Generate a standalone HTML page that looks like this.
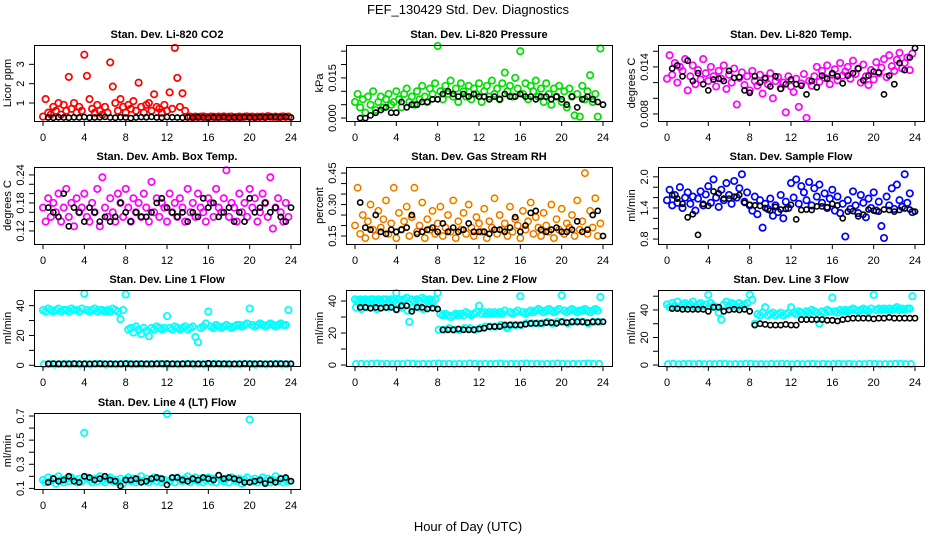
<!DOCTYPE html>
<html><head><meta charset="utf-8"><style>
html,body{margin:0;padding:0;background:#fff}
svg{display:block;font-family:"Liberation Sans",sans-serif}
</style></head><body>
<svg id="chart" width="936" height="540" viewBox="0 0 936 540" xmlns="http://www.w3.org/2000/svg">
<rect x="0" y="0" width="936" height="540" fill="#fff"/>
<text x="468" y="14" text-anchor="middle" font-size="13">FEF_130429  Std. Dev. Diagnostics</text>
<text x="468" y="531" text-anchor="middle" font-size="13">Hour of Day (UTC)</text>
</svg>
<script>
const xTicks=[0,4,8,12,16,20,24];
const co2Red=[0.3,1.2,0.5,0.4,0.8,0.6,1.0,0.4,0.9,0.6,2.35,0.7,1.0,0.5,0.8,0.6,3.5,2.4,1.2,0.7,0.5,0.9,0.6,0.4,0.8,0.5,3.1,1.85,1.0,0.6,1.2,0.8,0.5,0.9,0.7,1.1,0.6,2.05,0.8,0.5,0.9,1.0,0.6,1.45,0.8,0.7,0.5,0.9,0.6,1.55,0.7,3.85,2.3,0.8,1.5,0.6,0.28,0.3,0.26,0.3,0.27,0.29,0.31,0.28,0.26,0.3,0.29,0.27,0.3,0.28,0.31,0.27,0.29,0.3,0.26,0.28,0.3,0.27,0.29,0.31,0.28,0.3,0.26,0.29,0.28,0.3,0.27,0.32,0.29,0.28,0.3,0.27,0.29,0.31,0.28,0.3];
const co2Blk=[0.25,0.24,0.26,0.25,0.24,0.26,0.25,0.27,0.24,0.25,0.26,0.28,0.25,0.24,0.26,0.25,0.22,0.25,0.27,0.26,0.28,0.25,0.24,0.27,0.26,0.25,0.24,0.26,0.25,0.27,0.25,0.24,0.26,0.25,0.27,0.24,0.26,0.25,0.27,0.26,0.25,0.27,0.26,0.28,0.27,0.26,0.28,0.25];
const presGreen=[0.006,0.009,0.004,0.007,0.002,0.008,0.005,0.010,0.003,0.006,0.008,0.004,0.007,0.009,0.005,0.006,0.010,0.007,0.004,0.009,0.011,0.006,0.008,0.005,0.010,0.007,0.012,0.008,0.006,0.011,0.009,0.013,0.027,0.010,0.007,0.012,0.009,0.014,0.008,0.011,0.006,0.013,0.010,0.008,0.012,0.007,0.011,0.009,0.013,0.006,0.010,0.012,0.008,0.014,0.009,0.011,0.007,0.013,0.017,0.010,0.012,0.008,0.015,0.011,0.025,0.009,0.013,0.007,0.012,0.010,0.014,0.008,0.011,0.006,0.013,0.009,0.005,0.011,0.008,0.012,0.006,0.010,0.004,0.011,0.008,0.001,0.009,0.0005,0.012,0.007,0.010,0.016,0.006,0.009,0.0005,0.026];
const presBlk=[0,0,0.001,0.002,0.003,0.004,0.002,0.002,0.006,0.004,0.005,0.005,0.006,0.006,0.007,0.007,0.009,0.010,0.009,0.008,0.009,0.008,0.009,0.008,0.008,0.007,0.008,0.007,0.009,0.008,0.008,0.009,0.008,0.008,0.007,0.008,0.008,0.007,0.008,0.007,0.005,0.008,0.004,0.007,0.008,0.007,0.006,0.005];
const tempMag=[0.0125,0.0155,0.0130,0.0145,0.0120,0.0140,0.0135,0.0150,0.0110,0.0128,0.0142,0.0118,0.0136,0.0124,0.0150,0.0132,0.0122,0.0140,0.0128,0.0115,0.0135,0.0125,0.0142,0.0112,0.0130,0.0120,0.0138,0.0092,0.0126,0.0133,0.0117,0.0128,0.0110,0.0135,0.0122,0.0116,0.0130,0.0106,0.0124,0.0118,0.0132,0.0100,0.0122,0.0127,0.0113,0.0120,0.0082,0.0128,0.0115,0.0108,0.0125,0.0089,0.0119,0.0131,0.0075,0.0122,0.0116,0.0128,0.0140,0.0121,0.0135,0.0126,0.0142,0.0118,0.0130,0.0137,0.0123,0.0145,0.0129,0.0134,0.0140,0.0125,0.0148,0.0131,0.0138,0.0120,0.0143,0.0128,0.0117,0.0136,0.0124,0.0146,0.0132,0.0139,0.0150,0.0127,0.0155,0.0141,0.0135,0.0149,0.0158,0.0138,0.0145,0.0152,0.0136,0.0157];
const tempBlk=[0.0138,0.0142,0.0128,0.0148,0.0122,0.0132,0.0118,0.0110,0.0124,0.0125,0.0122,0.0135,0.0126,0.0127,0.0110,0.0107,0.0128,0.0120,0.0126,0.0115,0.0128,0.0112,0.0118,0.0124,0.0118,0.0116,0.0105,0.0122,0.0114,0.0129,0.0125,0.0132,0.0128,0.0119,0.0129,0.0132,0.0138,0.0123,0.0129,0.0134,0.0133,0.0105,0.0129,0.0118,0.0145,0.0136,0.0152,0.0164];
const ambMag=[0.17,0.14,0.19,0.15,0.18,0.16,0.20,0.14,0.17,0.21,0.15,0.18,0.13,0.19,0.16,0.17,0.20,0.15,0.14,0.18,0.16,0.21,0.13,0.235,0.17,0.15,0.19,0.16,0.14,0.20,0.18,0.15,0.21,0.17,0.14,0.19,0.16,0.18,0.15,0.20,0.17,0.14,0.225,0.16,0.19,0.15,0.18,0.17,0.14,0.20,0.16,0.18,0.15,0.19,0.17,0.14,0.21,0.16,0.18,0.15,0.20,0.17,0.16,0.14,0.19,0.18,0.15,0.21,0.17,0.16,0.19,0.25,0.15,0.18,0.17,0.14,0.20,0.16,0.18,0.15,0.21,0.17,0.19,0.14,0.16,0.20,0.18,0.15,0.235,0.125,0.17,0.19,0.16,0.14,0.18,0.15];
const ambBlk=[0.17,0.16,0.15,0.20,0.13,0.17,0.16,0.14,0.17,0.16,0.14,0.15,0.14,0.15,0.18,0.16,0.14,0.16,0.15,0.15,0.16,0.18,0.19,0.17,0.16,0.15,0.16,0.14,0.16,0.15,0.19,0.17,0.18,0.15,0.16,0.17,0.14,0.16,0.14,0.19,0.16,0.17,0.18,0.16,0.17,0.15,0.14,0.17];
const rhOrange=[0.20,0.38,0.16,0.25,0.14,0.22,0.30,0.18,0.15,0.27,0.19,0.23,0.32,0.16,0.21,0.38,0.14,0.26,0.18,0.22,0.29,0.15,0.24,0.38,0.17,0.20,0.31,0.14,0.23,0.18,0.27,0.16,0.21,0.29,0.15,0.19,0.25,0.17,0.32,0.14,0.22,0.18,0.26,0.16,0.30,0.19,0.15,0.24,0.21,0.17,0.28,0.14,0.22,0.19,0.33,0.16,0.25,0.18,0.21,0.15,0.29,0.17,0.23,0.20,0.14,0.27,0.18,0.22,0.31,0.16,0.24,0.19,0.15,0.26,0.20,0.17,0.30,0.14,0.23,0.18,0.28,0.16,0.21,0.19,0.25,0.15,0.32,0.18,0.22,0.45,0.16,0.27,0.19,0.33,0.15,0.21];
const rhBlk=[0.31,0.19,0.18,0.25,0.17,0.16,0.18,0.17,0.18,0.19,0.25,0.16,0.17,0.18,0.19,0.17,0.21,0.17,0.19,0.17,0.18,0.21,0.17,0.17,0.17,0.16,0.18,0.18,0.17,0.19,0.24,0.17,0.20,0.26,0.27,0.18,0.17,0.18,0.19,0.17,0.17,0.18,0.22,0.17,0.18,0.25,0.27,0.15];
const flowBlue=[1.55,1.75,1.45,1.65,1.50,1.80,1.40,1.60,1.70,1.48,1.62,1.35,1.58,1.72,1.45,1.66,1.82,1.50,1.95,1.60,1.42,1.75,1.55,1.88,1.65,1.48,1.92,1.60,1.78,2.05,1.52,1.70,1.45,1.35,1.62,1.28,1.55,1.02,1.48,1.38,1.58,1.25,1.45,1.32,1.65,1.20,1.52,1.40,1.88,1.60,1.95,1.48,1.82,1.70,1.55,1.90,1.45,1.78,1.62,1.85,1.50,1.68,1.40,1.58,1.75,1.35,1.62,1.30,1.48,0.85,1.55,1.38,1.72,1.45,1.30,1.65,1.50,1.22,1.58,1.40,1.70,1.35,1.52,1.05,0.82,1.62,1.45,1.78,1.38,1.85,1.55,1.42,2.05,1.50,1.68,1.32];
const flowBlk=[1.65,1.58,1.48,1.22,1.28,0.88,1.48,1.44,1.72,1.68,1.58,1.58,1.62,1.65,1.50,1.46,1.45,1.44,1.40,1.35,1.42,1.37,1.38,1.46,1.18,1.36,1.37,1.36,1.43,1.43,1.41,1.48,1.45,1.20,1.33,1.34,1.24,1.27,1.37,1.35,1.33,1.37,1.36,1.33,1.36,1.39,1.37,1.33];
const line1Cyan=[37,36,38,37,36,37,38,36,37,37,36,38,37,37,36,38,48,37,36,37,38,36,37,37,36,37,36,38,37,36,31,37,47.5,24,25,22,26,24,21,25,23,19.5,25,24,26,25,24,25,33,25,24,26,25,24,25,26,24,25,26,19,15.5,25,26,28,36,26,25,27,26,25,26,27,26,25,26,27,27,26,27,28,38,27,26,27,28,27,26,27,28,27,26,27,28,27,27,37];
const lineLowCyan=[0.6,0.8,0.5,0.7,0.9,0.6,0.8,0.5,0.7,0.6,0.9,0.8,0.5,0.7,0.6,0.8,0.9,0.6,0.7,0.5,0.8,0.6,0.9,0.7,0.5,0.8,0.6,0.7,0.9,0.5,0.8,0.6,0.7,0.9,0.6,0.8,0.5,0.7,0.6,0.9,0.8,0.5,0.7,0.6,0.8,0.9,0.6,0.7];
const line1Blk=[1.0,1.1,1.0,0.9,1.0,1.1,1.0,1.0,0.9,1.0,1.1,1.0,1.0,0.9,1.0,1.1,1.0,1.0,1.1,0.9,1.0,1.0,1.1,1.2,1.0,0.9,1.0,1.1,1.0,1.0,0.9,1.3,1.0,1.1,1.0,1.0,0.9,1.0,1.1,1.0,1.0,1.1,0.9,1.0,1.0,1.1,1.0,1.0];
const line2CyanA=[41,40,41,40,41,40,41,41,40,41,40,41,41,40,41,40,45,41,40,41,42,27,41,40,41,40,42,41,40,41,40,41,45,32,31,32,31,30,31,32,31,32,31,33,32,31,32,33,37,32,33,32,33,32,33,32,33,32,34,23,33,32,33,34,43,33,32,33,34,33,34,35,34,33,34,35,34,33,34,35,43.5,34,33,34,35,34,33,34,34,35,34,33,34,35,34,42.5];
const line2CyanB=[36,35,36,36,35,36,36,37,35,36,34,36,36,35,36,36,22,22,23,22,22,23,23,22,23,24,24,24,25,24,25,25,25,26,26,26,26,27,26,27,27,26,27,27,27,26,27,27];
const line2Blk=[36,36,35.5,36,35.5,36,36,34.5,37,37,33.5,36,36,35,35.5,35,22,22,22,22.5,22,22,22,22.5,23,24,24,24,25,25,25,25,25.5,26,26,26,26.5,26.5,26,27,26.5,27,27,27,26.5,27,27,27];
const line3Cyan=[44,42,45,43,46,42,44,45,43,44,46,42,44,45,43,44,51,45,43,42,38,33,44,46,43,45,44,42,45,43,44,45,51,47.5,30,37,36,38,42,36,37,38,36,37,38,36,37,38,42,38,37,39,38,37,39,38,40,39,38,30,39,38,40,39,49,39,38,40,39,40,39,40,41,40,39,40,41,40,39,41,51,40,41,40,41,40,41,40,41,42,40,41,40,41,41,50];
const line3Blk=[41,41,40.5,40.5,40.5,40.5,40.5,39,42,42,39,40,40.5,40,40.5,39,29,30,29.5,29,29,29,29.5,29,29,33,33,33,33,33,32.5,32.5,32,33,33.5,34,34,34,34,33.5,34,34,34.5,34,34,34,34,34];
const line4Cyan=[0.17,0.15,0.19,0.16,0.18,0.14,0.20,0.17,0.15,0.18,0.16,0.19,0.17,0.15,0.18,0.16,0.56,0.19,0.17,0.15,0.18,0.16,0.20,0.17,0.15,0.18,0.19,0.16,0.17,0.15,0.18,0.14,0.17,0.19,0.16,0.18,0.15,0.17,0.20,0.16,0.18,0.15,0.17,0.19,0.16,0.18,0.15,0.17,0.72,0.16,0.18,0.15,0.19,0.17,0.16,0.18,0.20,0.15,0.17,0.19,0.16,0.18,0.15,0.17,0.19,0.16,0.18,0.15,0.20,0.17,0.16,0.18,0.15,0.19,0.17,0.16,0.18,0.14,0.17,0.19,0.67,0.16,0.18,0.15,0.17,0.19,0.16,0.18,0.15,0.17,0.20,0.16,0.18,0.15,0.17,0.16];
const line4Blk=[0.15,0.18,0.16,0.17,0.20,0.16,0.15,0.20,0.19,0.17,0.18,0.20,0.17,0.16,0.12,0.17,0.17,0.18,0.15,0.16,0.18,0.19,0.18,0.13,0.19,0.19,0.17,0.16,0.18,0.17,0.19,0.18,0.17,0.21,0.18,0.19,0.18,0.17,0.15,0.15,0.16,0.17,0.14,0.17,0.15,0.18,0.19,0.16];

const NS="http://www.w3.org/2000/svg";
const svg=document.getElementById('chart');
const colL=[34,346,658], rowT=[45,167,290,413], rowB=[121,244,366,489], BW=266;
function mk(tag,attrs,parent){const e=document.createElementNS(NS,tag);for(const k in attrs)e.setAttribute(k,attrs[k]);parent.appendChild(e);return e;}

const panels=[
 {key:'co2',title:'Stan. Dev. Li-820 CO2',ylab:'Licor ppm',c:0,r:0,ylim:[0.07,4.0],ticks:[1,2,3],labels:['1','2','3'],series:[[co2Red,'#ff0000',1.7],[co2Blk,'#000',1.6]]},
 {key:'pressure',title:'Stan. Dev. Li-820 Pressure',ylab:'kPa',c:1,r:0,ylim:[-0.0011,0.0273],ticks:[0,0.005,0.01,0.015,0.02,0.025],labels:['0.000','','','0.015','',''],series:[[presGreen,'#00e000',1.7],[presBlk,'#000',1.6]]},
 {key:'temp',title:'Stan. Dev. Li-820 Temp.',ylab:'degrees C',c:2,r:0,ylim:[0.0071,0.0168],ticks:[0.008,0.010,0.012,0.014,0.016],labels:['0.008','','','0.014',''],series:[[tempMag,'#ff00ff',1.7],[tempBlk,'#000',1.6]]},
 {key:'amb-box-temp',title:'Stan. Dev. Amb. Box Temp.',ylab:'degrees C',c:0,r:1,ylim:[0.092,0.257],ticks:[0.12,0.14,0.16,0.18,0.20,0.22,0.24],labels:['0.12','','','0.18','','','0.24'],series:[[ambMag,'#ff00ff',1.7],[ambBlk,'#000',1.6]]},
 {key:'gas-rh',title:'Stan. Dev. Gas Stream RH',ylab:'percent',c:1,r:1,ylim:[0.112,0.479],ticks:[0.15,0.20,0.25,0.30,0.35,0.40,0.45],labels:['0.15','','','0.30','','','0.45'],series:[[rhOrange,'#ffb000',1.7],[rhOrange,'#e84000',0.6],[rhBlk,'#000',1.6]]},
 {key:'sample-flow',title:'Stan. Dev. Sample Flow',ylab:'ml/min',c:2,r:1,ylim:[0.705,2.19],ticks:[0.8,1.0,1.2,1.4,1.6,1.8,2.0],labels:['0.8','','','1.4','','','2.0'],series:[[flowBlue,'#0000ff',1.7],[flowBlk,'#000',1.6]]},
 {key:'line1',title:'Stan. Dev. Line 1 Flow',ylab:'ml/min',c:0,r:2,ylim:[-0.5,50.5],ticks:[0,10,20,30,40],labels:['0','','20','','40'],series:[[line1Cyan,'#00ffff',1.8],[lineLowCyan,'#00ffff',1.8],[line1Blk,'#000',1.6]]},
 {key:'line2',title:'Stan. Dev. Line 2 Flow',ylab:'ml/min',c:1,r:2,ylim:[-0.6,46.9],ticks:[0,10,20,30,40],labels:['0','','20','','40'],series:[[line2CyanA,'#00ffff',1.8],[line2CyanB,'#00ffff',1.8],[lineLowCyan,'#00ffff',1.8],[line2Blk,'#000',1.6]]},
 {key:'line3',title:'Stan. Dev. Line 3 Flow',ylab:'ml/min',c:2,r:2,ylim:[-0.7,54.5],ticks:[0,10,20,30,40,50],labels:['0','','20','','40',''],series:[[line3Cyan,'#00ffff',1.8],[lineLowCyan,'#00ffff',1.8],[line3Blk,'#000',1.6]]},
 {key:'line4',title:'Stan. Dev. Line 4 (LT) Flow',ylab:'ml/min',c:0,r:3,ylim:[0.095,0.725],ticks:[0.1,0.2,0.3,0.4,0.5,0.6,0.7],labels:['0.1','','0.3','','0.5','','0.7'],series:[[line4Cyan,'#00ffff',1.8],[line4Blk,'#000',1.6]]}
];

panels.forEach(p=>{
  const L=colL[p.c], T=rowT[p.r], B=rowB[p.r], R=L+BW;
  const xs=h=>L+9+h*(BW-18)/24;
  const ys=v=>B-(v-p.ylim[0])/(p.ylim[1]-p.ylim[0])*(B-T);
  const g=mk('g',{},svg);
  
  
  const t=mk('text',{x:(L+R)/2,y:T-7,'text-anchor':'middle','font-size':11,'font-weight':'bold'},g);
  t.textContent=p.title;
  
  
  const pg=mk('g',{fill:'none'},g);
  
  
  p.series.forEach(([arr,col,sw])=>{
    const black=col==='#000';
    const n=arr.length;
    arr.forEach((v,i)=>{
      const h=black? 0.5+i*23.5/(n-1) : (n===48? i*24/n+0.1 : i*24/n);
      const cy=Math.max(T+1,Math.min(B-1,ys(v)));
      const c=mk('circle',{cx:xs(h).toFixed(1),cy:cy.toFixed(1),r:black?2.6:3.2,stroke:col,'stroke-width':sw},pg);
      
      
    });
  });
  const box=mk('rect',{x:L+0.5,y:T+0.5,width:BW,height:B-T,fill:'none',stroke:'#000','stroke-width':1},g);
  
  
  xTicks.forEach(h=>{
    const x=xs(h);
    mk('line',{x1:x,x2:x,y1:B,y2:B+5,stroke:'#000'},g);
    const tl=mk('text',{x:x,y:B+20,'text-anchor':'middle','font-size':11},g);
    tl.textContent=h;
    
    
  });
  p.ticks.forEach((v,i)=>{
    const y=ys(v);
    mk('line',{x1:L-5,x2:L,y1:y,y2:y,stroke:'#000'},g);
    if(p.labels[i]){
      const yl=mk('text',{x:L-10,y:y,'text-anchor':'middle','font-size':11,transform:`rotate(-90 ${L-10} ${y})`},g);
      yl.textContent=p.labels[i];
      
      
    }
  });
  const yt=mk('text',{x:L-23,y:(T+B)/2,'text-anchor':'middle','font-size':11,transform:`rotate(-90 ${L-23} ${(T+B)/2})`},g);
  yt.textContent=p.ylab;
  
  
});
</script>
</body></html>
